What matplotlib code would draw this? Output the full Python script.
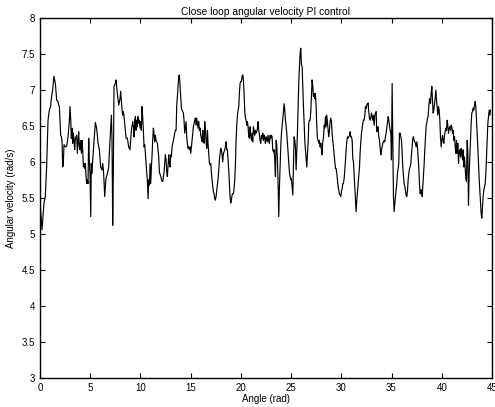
import numpy as np
import matplotlib
matplotlib.use('Agg')
import matplotlib.pyplot as plt

# values (angle in rad, angular velocity in rad/s)
angle = [0.00, 0.20, 0.40, 0.53, 0.66, 0.80, 0.93, 1.06, 1.13, 1.26, 1.39, 1.53, 1.66, 1.79, 1.86, 1.93,
         1.99, 2.06, 2.13, 2.19, 2.26, 2.32, 2.39, 2.52, 2.66, 2.79, 2.92, 2.99, 3.06, 3.12, 3.19, 3.25,
         3.32, 3.39, 3.45, 3.52, 3.65, 3.72, 3.79, 3.85, 3.92, 3.98, 4.05, 4.12, 4.18, 4.25, 4.32, 4.38,
         4.45, 4.52, 4.58, 4.65, 4.72, 4.78, 4.85, 4.91, 4.98, 5.05, 5.11, 5.18, 5.25, 5.38, 5.51, 5.64,
         5.78, 5.91, 6.04, 6.18, 6.24, 6.31, 6.37, 6.44, 6.57, 6.71, 6.84, 6.97, 7.11, 7.17, 7.24, 7.30,
         7.37, 7.50, 7.57, 7.70, 7.84, 7.97, 8.03, 8.17, 8.23, 8.30, 8.37, 8.50, 8.57, 8.70, 8.83, 8.96,
         9.10, 9.23, 9.30, 9.36, 9.43, 9.50, 9.56, 9.63, 9.69, 9.76, 9.83, 9.89, 9.96, 10.03, 10.09, 10.16,
         10.23, 10.29, 10.36, 10.43, 10.49, 10.56, 10.62, 10.69, 10.76, 10.82, 10.89, 10.96, 11.02, 11.09,
         11.16, 11.22, 11.29, 11.35, 11.42, 11.49, 11.55, 11.69, 11.82, 11.89, 12.02, 12.15, 12.22, 12.35,
         12.48, 12.55, 12.62, 12.68, 12.82, 12.88, 12.95, 13.01, 13.08, 13.15, 13.28, 13.41, 13.48, 13.55,
         13.61, 13.68, 13.75, 13.81, 13.88, 13.94, 14.01, 14.08, 14.14, 14.21, 14.28, 14.34, 14.41, 14.48,
         14.54, 14.61, 14.67, 14.74, 14.81, 14.87, 14.94, 15.01, 15.07, 15.14, 15.27, 15.41, 15.47, 15.54,
         15.60, 15.67, 15.74, 15.80, 15.87, 15.94, 16.00, 16.07, 16.14, 16.20, 16.27, 16.34, 16.40, 16.47,
         16.53, 16.60, 16.67, 16.73, 16.80, 16.87, 16.93, 17.00, 17.07, 17.13, 17.20, 17.26, 17.33, 17.40,
         17.46, 17.53, 17.60, 17.66, 17.73, 17.80, 17.86, 17.93, 17.99, 18.06, 18.13, 18.19, 18.26, 18.33,
         18.39, 18.46, 18.53, 18.59, 18.66, 18.73, 18.79, 18.86, 18.92, 18.99, 19.06, 19.12, 19.19, 19.26,
         19.32, 19.39, 19.46, 19.52, 19.59, 19.66, 19.72, 19.79, 19.85, 19.92, 19.99, 20.05, 20.12, 20.19,
         20.25, 20.32, 20.39, 20.45, 20.52, 20.59, 20.65, 20.72, 20.78, 20.85, 20.92, 20.98, 21.05, 21.12,
         21.18, 21.25, 21.32, 21.38, 21.45, 21.51, 21.58, 21.65, 21.71, 21.78, 21.85, 21.91, 21.98, 22.05,
         22.11, 22.18, 22.24, 22.31, 22.38, 22.44, 22.51, 22.58, 22.64, 22.71, 22.78, 22.84, 22.91, 22.98,
         23.04, 23.11, 23.17, 23.24, 23.31, 23.37, 23.44, 23.51, 23.57, 23.64, 23.71, 23.77, 23.84, 23.90,
         23.97, 24.04, 24.10, 24.17, 24.24, 24.30, 24.37, 24.44, 24.50, 24.57, 24.64, 24.70, 24.77, 24.83,
         24.90, 24.97, 25.03, 25.10, 25.17, 25.23, 25.30, 25.37, 25.43, 25.50, 25.56, 25.63, 25.70, 25.76,
         25.83, 25.90, 25.96, 26.03, 26.10, 26.16, 26.23, 26.30, 26.36, 26.43, 26.49, 26.56, 26.63, 26.69,
         26.76, 26.83, 26.89, 26.96, 27.03, 27.09, 27.16, 27.22, 27.29, 27.36, 27.42, 27.49, 27.56, 27.62,
         27.69, 27.76, 27.82, 27.89, 27.96, 28.02, 28.09, 28.15, 28.22, 28.29, 28.35, 28.42, 28.49, 28.55,
         28.62, 28.69, 28.75, 28.82, 28.88, 28.95, 29.02, 29.08, 29.15, 29.22, 29.28, 29.35, 29.42, 29.48,
         29.55, 29.62, 29.68, 29.75, 29.81, 29.88, 29.95, 30.01, 30.08, 30.15, 30.21, 30.28, 30.35, 30.41,
         30.48, 30.54, 30.61, 30.68, 30.74, 30.81, 30.88, 30.94, 31.01, 31.08, 31.14, 31.21, 31.27, 31.34,
         31.41, 31.47, 31.54, 31.61, 31.67, 31.74, 31.81, 31.87, 31.94, 32.01, 32.07, 32.14, 32.20, 32.27,
         32.34, 32.40, 32.47, 32.54, 32.60, 32.67, 32.73, 32.80, 32.87, 32.93, 33.00, 33.07, 33.13, 33.20,
         33.27, 33.33, 33.40, 33.47, 33.53, 33.60, 33.66, 33.73, 33.80, 33.86, 33.93, 34.00, 34.06, 34.13,
         34.20, 34.26, 34.33, 34.39, 34.46, 34.53, 34.59, 34.66, 34.73, 34.79, 34.86, 34.93, 34.99, 35.06,
         35.13, 35.19, 35.26, 35.33, 35.39, 35.46, 35.52, 35.59, 35.66, 35.72, 35.79, 35.86, 35.92, 35.99,
         36.06, 36.12, 36.19, 36.25, 36.32, 36.39, 36.45, 36.52, 36.59, 36.65, 36.72, 36.79, 36.85, 36.92,
         36.98, 37.05, 37.12, 37.18, 37.25, 37.32, 37.38, 37.45, 37.52, 37.58, 37.65, 37.71, 37.78, 37.85,
         37.91, 37.98, 38.05, 38.11, 38.18, 38.25, 38.31, 38.38, 38.45, 38.51, 38.58, 38.64, 38.71, 38.78,
         38.81, 38.88, 38.94, 39.01, 39.08, 39.14, 39.21, 39.28, 39.34, 39.41, 39.48, 39.54, 39.61, 39.68,
         39.74, 39.81, 39.87, 39.94, 40.01, 40.07, 40.14, 40.21, 40.27, 40.34, 40.41, 40.47, 40.54, 40.60,
         40.67, 40.74, 40.80, 40.87, 40.94, 41.00, 41.07, 41.14, 41.20, 41.27, 41.34, 41.40, 41.47, 41.53,
         41.60, 41.67, 41.73, 41.80, 41.87, 41.93, 42.00, 42.07, 42.13, 42.20, 42.26, 42.33, 42.40, 42.46,
         42.53, 42.60, 42.66, 42.73, 42.80, 42.86, 42.93, 42.99, 43.06, 43.13, 43.19, 43.26, 43.33, 43.39,
         43.46, 43.53, 43.59, 43.66, 43.73, 43.79, 43.86, 43.92, 43.99, 44.06, 44.12, 44.19, 44.26, 44.32,
         44.39, 44.46, 44.52, 44.59, 44.66, 44.72, 44.79, 44.85]

omega = [5.45, 5.06, 5.43, 5.52, 5.93, 6.58, 6.72, 6.77, 6.88, 7.00, 7.19, 7.09, 6.86, 6.84, 6.79, 6.77,
         6.58, 6.37, 6.35, 6.30, 5.93, 5.98, 6.24, 6.21, 6.22, 6.35, 6.56, 6.77, 6.58, 6.33, 6.47, 6.26,
         6.40, 6.30, 6.17, 6.33, 6.37, 6.12, 6.30, 6.42, 6.21, 6.17, 6.30, 6.12, 6.30, 6.17, 5.93, 5.98,
         5.91, 5.98, 5.80, 5.70, 5.75, 5.70, 6.33, 6.03, 5.84, 5.24, 5.98, 5.84, 6.03, 6.30, 6.55, 6.47,
         6.26, 6.17, 5.93, 5.89, 5.98, 5.89, 5.75, 5.52, 5.77, 5.84, 5.93, 6.30, 6.65, 6.30, 5.12, 5.84,
         7.05, 7.09, 7.14, 6.95, 6.79, 6.88, 6.98, 6.72, 6.65, 6.70, 6.63, 6.44, 6.33, 6.33, 6.21, 6.17,
         6.44, 6.56, 6.49, 6.35, 6.58, 6.63, 6.44, 6.58, 6.49, 6.63, 6.54, 6.58, 6.47, 6.56, 6.44, 6.77,
         6.61, 6.44, 6.21, 6.24, 6.12, 6.00, 5.86, 5.75, 5.49, 5.75, 5.68, 5.98, 5.70, 5.93,
         6.10, 6.30, 6.47, 6.40, 6.28, 6.37, 6.30, 6.26, 6.07, 5.86, 5.80, 5.73, 5.73, 5.86,
         6.10, 6.03, 5.86, 5.80, 6.10, 5.98, 5.93, 6.10, 6.07, 6.21, 6.30, 6.40, 6.44, 6.44,
         6.77, 6.91, 7.07, 7.19, 7.21, 7.07, 6.91, 6.74, 6.72, 6.70, 6.68, 6.58, 6.40, 6.49,
         6.56, 6.35, 6.26, 6.19, 6.21, 6.17, 6.21, 6.12, 6.21, 6.30, 6.49, 6.58, 6.61, 6.51,
         6.61, 6.54, 6.47, 6.56, 6.44, 6.47, 6.37, 6.33, 6.28, 6.44, 6.33, 6.26, 6.56, 6.44,
         6.30, 6.19, 6.44, 6.26, 6.12, 5.98, 5.96, 5.98, 5.84, 5.75, 5.66, 5.59, 5.56, 5.49,
         5.47, 5.52, 5.61, 5.70, 5.77, 5.89, 6.03, 6.12, 6.19, 6.17, 6.10, 6.00, 6.12, 6.14,
         6.17, 6.21, 6.28, 6.17, 6.17, 6.03, 5.89, 5.70, 5.52, 5.43, 5.47, 5.54, 5.56, 5.56,
         5.63, 5.75, 5.98, 6.30, 6.51, 6.65, 6.72, 6.77, 6.95, 7.09, 7.12, 7.12, 7.19, 7.21,
         7.14, 6.95, 6.70, 6.61, 6.58, 6.51, 6.56, 6.49, 6.35, 6.33, 6.49, 6.37, 6.30, 6.40,
         6.28, 6.49, 6.42, 6.37, 6.44, 6.40, 6.42, 6.47, 6.56, 6.44, 6.37, 6.30, 6.26, 6.37,
         6.33, 6.40, 6.30, 6.37, 6.33, 6.26, 6.35, 6.30, 6.28, 6.37, 6.30, 6.26, 6.37, 6.33,
         6.37, 6.35, 6.17, 6.14, 6.17, 6.03, 5.80, 6.30, 6.24, 6.03, 5.66, 5.24, 5.66, 5.93,
         6.21, 6.40, 6.49, 6.58, 6.70, 6.81, 6.72, 6.58, 6.49, 6.40, 6.26, 6.12, 5.98, 5.86,
         5.80, 5.75, 5.77, 5.66, 5.54, 5.91, 6.35, 6.30, 6.21, 5.89, 6.12, 6.40, 6.77, 7.09,
         7.32, 7.51, 7.58, 7.35, 7.32, 7.05, 6.77, 6.54, 6.30, 6.17, 6.07, 5.93, 6.10, 6.26,
         6.54, 6.58, 6.58, 6.70, 6.95, 7.14, 7.05, 6.91, 6.95, 6.88, 6.95, 6.77, 6.49, 6.33,
         6.30, 6.26, 6.30, 6.21, 6.26, 6.17, 6.10, 6.28, 6.33, 6.51, 6.47, 6.63, 6.49, 6.65,
         6.54, 6.44, 6.35, 6.44, 6.56, 6.61, 6.56, 6.40, 6.30, 6.19, 6.12, 6.00, 5.91, 5.91,
         5.84, 5.75, 5.66, 5.61, 5.56, 5.54, 5.52, 5.59, 5.63, 5.70, 5.70, 5.77, 5.89, 6.03,
         6.17, 6.28, 6.35, 6.33, 6.35, 6.37, 6.42, 6.35, 6.35, 6.30, 6.05, 6.00, 5.84, 5.66,
         5.49, 5.31, 5.47, 5.59, 5.70, 5.82, 5.93, 6.12, 6.28, 6.40, 6.47, 6.54, 6.58, 6.58,
         6.65, 6.77, 6.74, 6.79, 6.81, 6.82, 6.70, 6.61, 6.58, 6.61, 6.68, 6.63, 6.58, 6.65,
         6.51, 6.63, 6.68, 6.70, 6.42, 6.47, 6.49, 6.35, 6.30, 6.21, 6.10, 6.17, 6.21, 6.26,
         6.28, 6.30, 6.28, 6.35, 6.40, 6.47, 6.54, 6.63, 6.58, 6.51, 6.44, 6.40, 6.03, 7.09,
         6.30, 5.52, 5.31, 5.43, 5.52, 5.61, 5.70, 5.84, 5.91, 5.98, 6.40, 6.40, 6.35, 6.30,
         6.12, 5.93, 5.80, 5.70, 5.66, 5.59, 5.54, 5.52, 5.61, 5.75, 5.84, 5.91, 5.93, 5.98,
         6.10, 6.21, 6.33, 6.35, 6.30, 6.28, 6.26, 6.21, 6.28, 6.21, 6.07, 5.93, 5.70, 5.56,
         5.61, 5.61, 5.52, 5.66, 5.80, 5.98, 6.17, 6.35, 6.51, 6.54, 6.61, 6.63, 6.77, 6.88,
         6.86, 6.81, 6.95, 7.05, 6.86, 6.68, 6.72, 6.81, 6.88, 7.00, 6.86, 6.77, 6.65, 6.77,
         6.72, 6.58, 6.35, 6.21, 6.30, 6.37, 6.30, 6.26, 6.37, 6.42, 6.47, 6.44, 6.58, 6.51,
         6.40, 6.47, 6.49, 6.44, 6.51, 6.49, 6.40, 6.44, 6.30, 6.35, 6.21, 6.12, 6.30, 6.12,
         6.26, 5.98, 6.14, 6.17, 6.07, 6.19, 6.12, 6.03, 6.17, 5.93, 6.07, 5.93, 5.77, 5.73,
         6.30, 6.12, 5.40, 5.84, 6.07, 6.30, 6.54, 6.68, 6.70, 6.75, 6.72, 6.79, 6.84, 6.77,
         6.58, 6.40, 6.21, 5.98, 5.75, 5.61, 5.43, 5.29, 5.22, 5.38, 5.52, 5.61, 5.66, 5.70,
         5.84, 6.07, 6.30, 6.54, 6.63, 6.72, 6.65, 6.72]

x_ticks = [0, 5, 10, 15, 20, 25, 30, 35, 40, 45]
y_ticks = [3, 3.5, 4, 4.5, 5, 5.5, 6, 6.5, 7, 7.5, 8]

plt.rcParams['font.family'] = ['Liberation Sans', 'DejaVu Sans']

fig = plt.figure(figsize=(4.95, 4.07), dpi=100)
ax = fig.add_axes([0.0808, 0.0713, 0.9131, 0.8845])
ax.plot(angle, omega, color='black', linewidth=0.85)

ax.set_xlim(0, 45)
ax.set_ylim(3, 8)
ax.set_xticks(x_ticks)
ax.set_xticklabels([str(t) for t in x_ticks])
ax.set_yticks(y_ticks)
ax.set_yticklabels(['%g' % t for t in y_ticks])
ax.tick_params(direction='in', top=True, right=True, length=3.5, width=0.8,
               labelsize=7)
ax.tick_params(axis='y', pad=3.5)
ax.tick_params(axis='x', pad=3.5)
for s in ax.spines.values():
    s.set_linewidth(1.0)

ax.set_title('Close loop angular velocity PI control', fontsize=7.4, pad=2.5)
ax.set_xlabel('Angle (rad)', fontsize=7, labelpad=0.5)
ax.set_ylabel('Angular velocity (rad/s)', fontsize=7, labelpad=4)

fig.savefig('out.png', dpi=100)
